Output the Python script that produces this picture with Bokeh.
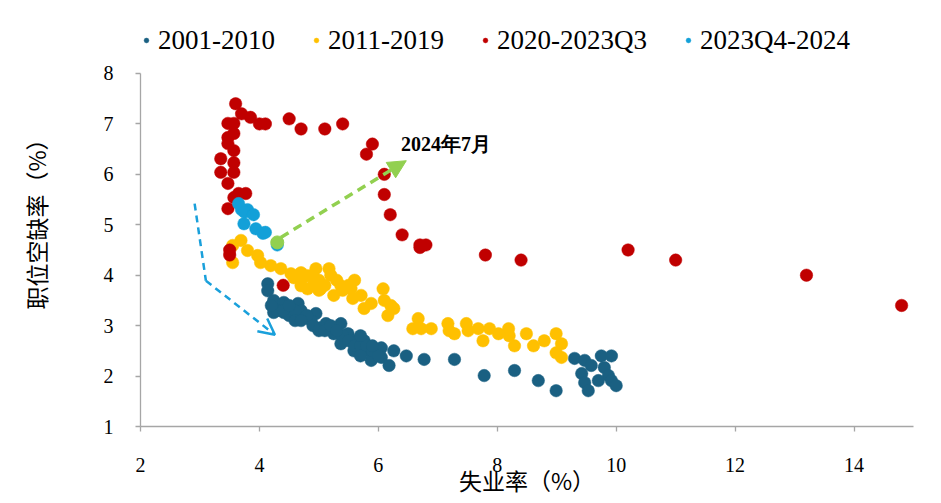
from bokeh.plotting import figure
from bokeh.models import (ColumnDataSource, Legend, LegendItem, Label, Arrow,
                          NormalHead, OpenHead, FixedTicker)
from bokeh.embed import file_html
from bokeh.resources import INLINE

# ---------------- data ----------------
series_names = ["2001-2010", "2011-2019", "2020-2023Q3", "2023Q4-2024"]
series_colors = ["#1A6082", "#FFC000", "#C00000", "#13A0D8"]

s2001_x = [4.14, 4.14, 4.24, 4.24, 4.41, 4.65, 4.70, 4.41, 4.95, 4.87, 5.12, 5.03,
           5.37, 5.25, 5.49, 5.37, 5.59, 5.76, 5.59, 5.83, 6.05, 5.88, 6.05, 6.18,
           6.26, 6.47, 6.77, 7.28, 7.78, 8.29, 8.69, 8.99, 9.30, 9.47, 9.58, 9.42,
           9.47, 9.53, 9.75, 9.92, 9.80, 9.87, 9.92, 10.0, 9.70,
           4.3, 4.5, 4.6, 4.8, 4.9, 5.0, 5.1, 5.2, 5.4, 5.5, 5.6, 5.7, 5.8, 5.9,
           6.0, 5.7, 4.4, 4.6, 4.2, 4.5, 5.7, 5.3, 4.7, 5.9]
s2001_y = [3.83, 3.69, 3.50, 3.26, 3.46, 3.44, 3.30, 3.26, 3.24, 3.10, 3.04, 2.96,
           3.04, 2.84, 2.84, 2.64, 2.70, 2.70, 2.50, 2.50, 2.56, 2.31, 2.37, 2.21,
           2.50, 2.40, 2.33, 2.33, 2.01, 2.11, 1.91, 1.71, 2.35, 2.31, 2.21, 2.05,
           1.87, 1.71, 2.40, 2.40, 2.17, 2.01, 1.91, 1.81, 1.91,
           3.3, 3.2, 3.3, 3.2, 3.0, 2.9, 2.9, 3.0, 2.8, 2.7, 2.6, 2.6, 2.6, 2.5,
           2.4, 2.4, 3.3, 3.1, 3.4, 3.4, 2.8, 2.9, 3.1, 2.6]

s2011_x = [9.08, 9.08, 8.99, 8.99, 8.79, 8.61, 8.49, 8.29, 8.20, 8.19, 8.02, 7.87,
           7.76, 7.68, 7.51, 7.48, 7.28, 7.19, 7.17, 6.89, 6.72, 6.58, 6.67, 6.16,
           6.26, 6.21, 6.10, 6.08, 5.88, 5.76, 5.71, 5.57, 5.25, 5.54, 5.37, 5.03,
           4.92, 5.17, 4.95, 4.81, 4.81, 4.70, 4.58, 4.36, 4.19, 4.02, 3.97, 3.80,
           3.55, 3.69, 3.55,
           4.9, 5.0, 5.1, 5.2, 5.0, 4.7, 5.5, 5.6, 5.4, 5.3, 4.53, 4.70]
s2011_y = [2.37, 2.64, 2.46, 2.84, 2.70, 2.60, 2.84, 2.60, 2.80, 2.94, 2.84, 2.94,
           2.70, 2.94, 2.90, 3.04, 2.84, 2.90, 3.04, 2.94, 2.94, 2.94, 3.14, 3.20,
           3.34, 3.40, 3.50, 3.73, 3.44, 3.34, 3.60, 3.54, 3.60, 3.73, 3.79, 3.73,
           3.85, 4.13, 4.13, 3.73, 3.99, 3.79, 3.95, 4.13, 4.19, 4.25, 4.39, 4.49,
           4.59, 4.69, 4.25,
           4.0, 3.9, 3.8, 4.0, 3.7, 3.9, 3.8, 3.9, 3.7, 3.9, 4.03, 4.05]

s2020_x = [3.5, 3.5, 4.4, 14.8, 13.2, 11.0, 10.2, 8.4, 7.8, 6.8, 6.7, 6.7,
           6.4, 6.2, 6.1, 6.1, 5.8, 5.9, 5.4, 5.1, 4.7, 4.5, 4.1, 4.0,
           3.7, 3.85, 3.6, 3.57, 3.47, 3.57, 3.47, 3.57, 3.35, 3.57, 3.35, 3.57,
           3.47, 3.57, 3.65, 3.77, 3.47, 3.47]
s2020_y = [4.5, 4.4, 3.8, 3.4, 4.0, 4.3, 4.5, 4.3, 4.4, 4.6, 4.55, 4.6,
           4.8, 5.2, 5.6, 6.0, 6.4, 6.6, 7.0, 6.9, 6.9, 7.1, 7.0, 7.0,
           7.2, 7.13, 7.4, 7.01, 7.01, 6.81, 6.73, 6.47, 6.31, 6.23, 6.04, 6.04,
           6.61, 5.54, 5.62, 5.62, 5.82, 5.32]

s2023_x = [3.8, 3.7, 3.65, 3.75, 3.9, 3.74, 3.94, 4.06, 4.1, 4.3]
s2023_y = [5.3, 5.3, 5.42, 5.25, 5.2, 5.02, 4.92, 4.83, 4.85, 4.6]

latest_x = [4.3]
latest_y = [4.65]
latest_label = "2024年7月"

x_ticks = [2, 4, 6, 8, 10, 12, 14]
y_ticks = [1, 2, 3, 4, 5, 6, 7, 8]
x_title = "失业率（%）"
y_title = "职位空缺率（%）"

# annotation arrows (data coordinates)
green_arrow = (4.36, 4.75, 6.47, 6.27)
blue_path_x = [2.91, 3.10]
blue_path_y = [5.42, 3.89]
blue_arrow = (3.10, 3.89, 4.26, 2.82)

# ---------------- figure ----------------
SERIF = "Liberation Serif"
CJK = "Noto Sans CJK SC"

# frame extends above the y=8 tick so that the legend sits inside it
p = figure(width=935, height=499, x_range=(2, 15), y_range=(1, 9.249),
           output_backend="svg", toolbar_location=None,
           min_border_left=140, min_border_right=22,
           min_border_top=10, min_border_bottom=73)
p.outline_line_color = None
p.xgrid.visible = False
p.ygrid.visible = False
p.background_fill_color = "white"
p.border_fill_color = "white"

for ax in (p.xaxis[0], p.yaxis[0]):
    ax.axis_line_color = "#A6A6A6"
    ax.axis_line_width = 1.3
    ax.major_tick_line_color = "#A6A6A6"
    ax.major_tick_line_width = 1.3
    ax.major_tick_in = 0
    ax.major_tick_out = 5
    ax.minor_tick_line_color = None
    ax.major_label_text_font = SERIF
    ax.major_label_text_font_size = "20px"
    ax.major_label_text_color = "black"
    ax.axis_label_text_font = CJK
    ax.axis_label_text_font_size = "23px"
    ax.axis_label_text_font_style = "normal"
    ax.axis_label_text_color = "black"
p.xaxis[0].ticker = FixedTicker(ticks=x_ticks)
p.yaxis[0].ticker = FixedTicker(ticks=y_ticks)
p.yaxis[0].bounds = (1, 8)
p.xaxis[0].major_label_standoff = 26
p.yaxis[0].major_label_standoff = 22
p.yaxis[0].axis_label = y_title
p.yaxis[0].axis_label_standoff = 48
p.xaxis[0].axis_label = x_title
p.xaxis[0].axis_label_standoff = -12

all_x = [s2001_x, s2011_x, s2020_x, s2023_x]
all_y = [s2001_y, s2011_y, s2020_y, s2023_y]
renderers = []
for xs, ys, c in zip(all_x, all_y, series_colors):
    src = ColumnDataSource(dict(x=xs, y=ys))
    r = p.scatter("x", "y", source=src, size=12.5, fill_color=c, line_color=c,
                  line_width=0.5)
    renderers.append(r)

p.scatter(latest_x, latest_y, size=13, fill_color="#92D050", line_color="#92D050")

# green dashed arrow
p.add_layout(Arrow(end=NormalHead(size=18, fill_color="#92D050", line_color="#92D050"),
                   x_start=green_arrow[0], y_start=green_arrow[1],
                   x_end=green_arrow[2], y_end=green_arrow[3],
                   line_color="#92D050", line_width=3.5, line_dash="9 6"))
# blue dashed path with open arrow
p.line(blue_path_x, blue_path_y, line_color="#1AA0DB", line_width=2.5, line_dash="7 5")
p.add_layout(Arrow(end=OpenHead(size=16, line_color="#1AA0DB", line_width=2.5),
                   x_start=blue_arrow[0], y_start=blue_arrow[1],
                   x_end=blue_arrow[2], y_end=blue_arrow[3],
                   line_color="#1AA0DB", line_width=2.5, line_dash="7 5"))

p.add_layout(Label(x=6.38, y=6.61, text=latest_label, text_font=SERIF,
                   text_font_size="20px", text_font_style="bold",
                   text_baseline="middle", text_align="left", text_color="black"))

legend = Legend(items=[LegendItem(label=n, renderers=[r]) for n, r in zip(series_names, renderers)],
                orientation="horizontal", location=(0, 370),
                label_text_font=SERIF, label_text_font_size="27px",
                label_text_color="black",
                glyph_width=12, glyph_height=32, label_height=32,
                label_standoff=6, spacing=35, padding=0, margin=0,
                border_line_color=None, background_fill_alpha=0)
p.add_layout(legend, "center")

open("out.html", "w").write(file_html(p, INLINE))
